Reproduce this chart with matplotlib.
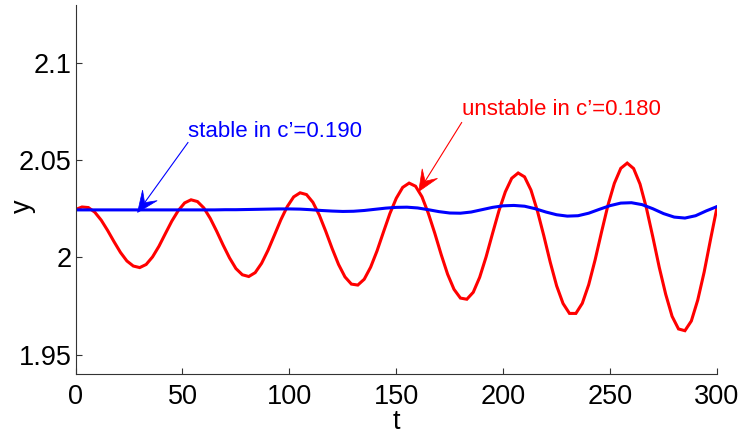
import numpy as np
import matplotlib
matplotlib.use("Agg")
import matplotlib.pyplot as plt
from matplotlib.patches import Polygon

plt.rcParams['font.family'] = ['Liberation Sans', 'DejaVu Sans']

# Time samples of the two responses
t_unstable = np.arange(0, 301, 3)
y_unstable = [
    2.0247, 2.0260, 2.0257, 2.0233, 2.0192, 2.0139, 2.0081, 2.0026, 1.9982, 1.9956,
    1.9948, 1.9964, 2.0003, 2.0058, 2.0123, 2.0187, 2.0241, 2.0281, 2.0297, 2.0288,
    2.0255, 2.0201, 2.0135, 2.0064, 1.9998, 1.9943, 1.9911, 1.9902, 1.9922, 1.9970,
    2.0037, 2.0115, 2.0194, 2.0262, 2.0312, 2.0333, 2.0324, 2.0284, 2.0218, 2.0135,
    2.0046, 1.9964, 1.9900, 1.9863, 1.9858, 1.9888, 1.9950, 2.0034, 2.0131, 2.0226,
    2.0305, 2.0361, 2.0383, 2.0367, 2.0313, 2.0227, 2.0125, 2.0015, 1.9914, 1.9836,
    1.9791, 1.9785, 1.9821, 1.9898, 2.0003, 2.0123, 2.0240, 2.0338, 2.0408, 2.0435,
    2.0415, 2.0347, 2.0240, 2.0112, 1.9976, 1.9854, 1.9763, 1.9712, 1.9712, 1.9764,
    1.9860, 1.9988, 2.0131, 2.0269, 2.0382, 2.0459, 2.0486, 2.0458, 2.0378, 2.0254,
    2.0105, 1.9949, 1.9811, 1.9697, 1.9632, 1.9623, 1.9673, 1.9781, 1.9925, 2.0094,
    2.0258,
]

t_stable = np.arange(0, 301, 5)
y_stable = [
    2.0245, 2.0245, 2.0245, 2.0245, 2.0245, 2.0245, 2.0245, 2.0245, 2.0245, 2.0245,
    2.0245, 2.0245, 2.0245, 2.0245, 2.0246, 2.0246, 2.0247, 2.0248, 2.0249, 2.0250,
    2.0250, 2.0249, 2.0246, 2.0242, 2.0239, 2.0237, 2.0238, 2.0242, 2.0248, 2.0254,
    2.0258, 2.0259, 2.0255, 2.0246, 2.0236, 2.0229, 2.0228, 2.0234, 2.0246, 2.0258,
    2.0266, 2.0268, 2.0264, 2.0251, 2.0234, 2.0220, 2.0213, 2.0215, 2.0228, 2.0248,
    2.0267, 2.0280, 2.0282, 2.0272, 2.0251, 2.0226, 2.0208, 2.0203, 2.0215, 2.0240,
    2.0262,
]

x_ticks = [0, 50, 100, 150, 200, 250, 300]
y_ticks = [1.95, 2.0, 2.05, 2.1]
y_tick_labels = ['1.95', '2', '2.05', '2.1']

label_stable = "stable in c\u2019=0.190"
label_unstable = "unstable in c\u2019=0.180"

fig = plt.figure(figsize=(7.41, 4.34), dpi=100)
ax = fig.add_axes([0.102, 0.1382, 0.8656, 0.8503])

ax.plot(t_unstable, y_unstable, color=(1, 0, 0), lw=2.2, solid_joinstyle='miter')
ax.plot(t_stable, y_stable, color=(0, 0, 1), lw=2.2)

ax.set_xlim(0, 300)
ax.set_ylim(1.94, 2.13)
ax.set_xticks(x_ticks)
ax.set_yticks(y_ticks)
ax.set_yticklabels(y_tick_labels)

for side in ('top', 'right'):
    ax.spines[side].set_visible(False)
for side in ('left', 'bottom'):
    ax.spines[side].set_linewidth(0.8)
    ax.spines[side].set_color('#333333')

ax.tick_params(direction='in', length=4, width=0.8, color='#333333',
               labelsize=19.5)
ax.tick_params(axis='y', pad=3)
ax.tick_params(axis='x', pad=7)

ax.set_xlabel('t', fontsize=19.5)
ax.set_ylabel('y', fontsize=19.5)
ax.xaxis.set_label_coords(0.5, -0.094)
ax.yaxis.set_label_coords(-0.062, 0.455)


def notched_arrow(ax, tip, tail, color, head_len=21.0, half_w=9.0, notch=12.0):
    """Thin arrow with a swept-back filled head, sized in pixels."""
    to_px = ax.transData
    to_data = ax.transData.inverted()
    p_tip = np.asarray(to_px.transform(tip))
    p_tail = np.asarray(to_px.transform(tail))
    d = p_tail - p_tip
    d = d / np.hypot(*d)
    n = np.array([-d[1], d[0]])
    head_px = [p_tip,
               p_tip + d * head_len + n * half_w,
               p_tip + d * notch,
               p_tip + d * head_len - n * half_w]
    head = to_data.transform(np.array(head_px))
    notch_pt = to_data.transform(p_tip + d * notch)
    ax.plot([tail[0], notch_pt[0]], [tail[1], notch_pt[1]], color=color,
            lw=0.8, solid_capstyle='butt')
    ax.add_patch(Polygon(head, closed=True, facecolor=color, edgecolor=color,
                         lw=0.5))


# Annotations with arrows pointing at each response
notched_arrow(ax, (29.0, 2.0232), (52.7, 2.0594), (0, 0, 1))
ax.text(52.7, 2.0651, label_stable, color=(0, 0, 1), fontsize=16,
        ha='left', va='center')

notched_arrow(ax, (160.5, 2.0340), (180.7, 2.0697), (1, 0, 0))
ax.text(180.9, 2.0763, label_unstable, color=(1, 0, 0), fontsize=16,
        ha='left', va='center')

fig.savefig('out.png', dpi=100)
